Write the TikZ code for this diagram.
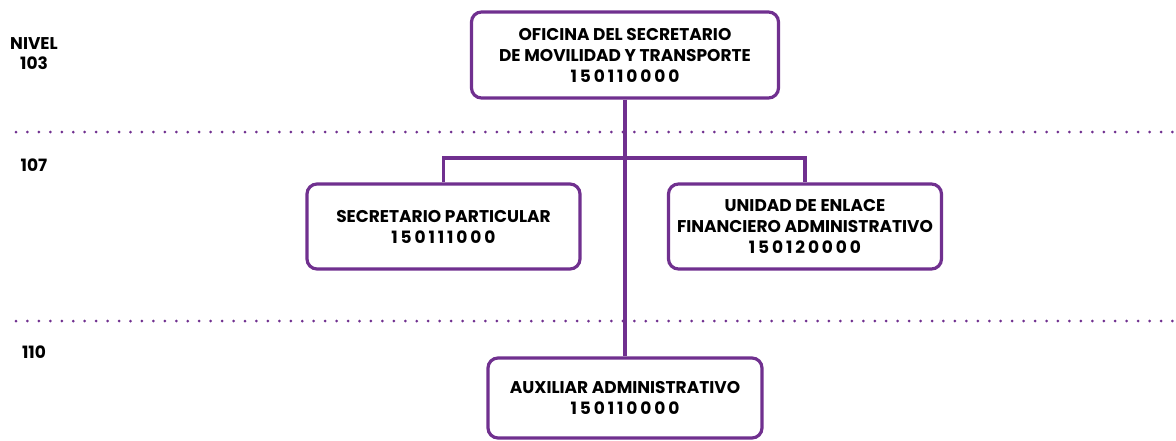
\documentclass[tikz,border=0pt]{standalone}
\usepackage{fontspec}
\setmainfont{Poppins}
\usetikzlibrary{positioning}
\definecolor{morado}{HTML}{70308F}
\newcommand{\clave}[1]{{\addfontfeature{LetterSpace=17}#1}}

\begin{document}
\begin{tikzpicture}[x=1pt,y=-1pt,
  every node/.style={font=\bfseries\fontsize{17}{21}\selectfont,align=center,text=black},
  puesto/.style={draw=morado,line width=3.2pt,rounded corners=10pt,fill=white,inner sep=0pt},
  linea/.style={draw=morado,line width=3.2pt},
  punteada/.style={draw=morado,line width=3pt,line cap=round,dash pattern=on 0pt off 11.45pt},
  nivel/.style={font=\bfseries\fontsize{17}{20}\selectfont}]

\useasboundingbox (0,0) rectangle (1176,440);

% niveles
\coordinate (d1a) at (16,132);
\coordinate (d1b) at (1176,132);
\coordinate (d2a) at (16,321);
\coordinate (d2b) at (1176,321);
\draw[punteada] (d1a) -- (d1b);
\draw[punteada] (d2a) -- (d2b);

\node [nivel] (n103) at (34,54) {NIVEL\\103};
\node [nivel] (n107) at (34,165) {107};
\node [nivel] (n110) at (34,352) {110};

% puestos
\node [puesto, minimum width=307pt, minimum height=86pt] (ofi) at (625,55)
  {OFICINA DEL SECRETARIO\\DE MOVILIDAD Y TRANSPORTE\\\clave{150110000}};
\node [puesto, minimum width=273pt, minimum height=85pt] (sec) at (443.5,226.5)
  {SECRETARIO PARTICULAR\\\clave{150111000}};
\node [puesto, minimum width=273pt, minimum height=85pt] (uni) at (805,226.5)
  {UNIDAD DE ENLACE\\FINANCIERO ADMINISTRATIVO\\\clave{150120000}};
\node [puesto, minimum width=274pt, minimum height=80pt] (aux) at (625,398)
  {AUXILIAR ADMINISTRATIVO\\\clave{150110000}};

% conectores
\coordinate (bus) at (625,158);
\draw[linea] (ofi.south) -- (aux.north);
\draw[linea] (sec.north) |- (bus) -| (uni.north);

\end{tikzpicture}
\end{document}
